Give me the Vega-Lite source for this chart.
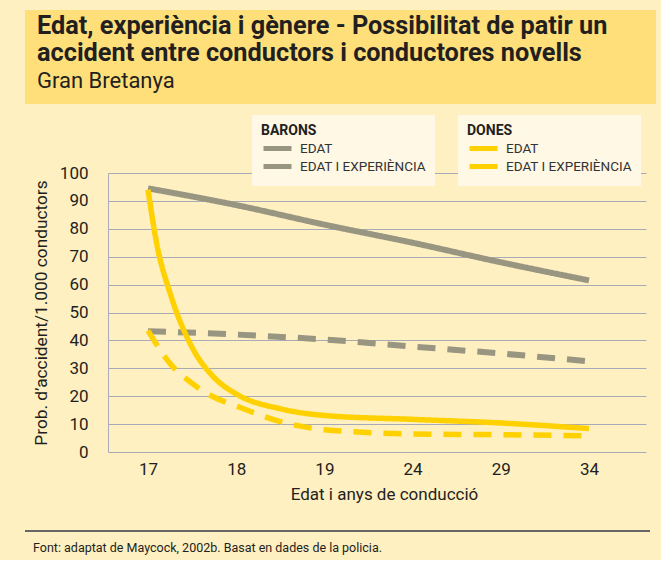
{
  "$schema": "https://vega.github.io/schema/vega-lite/v6.json",
  "background": "#FFF0C2",
  "padding": {"left": 25, "top": 10, "right": 5, "bottom": 5},
  "config": {
    "view": {"stroke": null},
    "font": "Roboto, Liberation Sans, sans-serif",
    "legend": {
      "fillColor": "#FFF8E5",
      "padding": 9,
      "symbolType": "M-3,0H3",
      "symbolStrokeWidth": 5,
      "symbolSize": 87,
      "symbolOffset": 9,
      "labelFontSize": 13.5,
      "labelColor": "#333333",
      "labelOffset": 15,
      "titleFontSize": 14,
      "titleFontWeight": "bold",
      "titleColor": "#231F20",
      "titlePadding": 3,
      "rowPadding": -4,
      "direction": "vertical"
    }
  },
  "vconcat": [
    {
      "spacing": 11,
      "vconcat": [
        {
          "width": 631,
          "height": 94,
          "view": {"fill": "#FFDF7A", "stroke": null},
          "title": {
            "text": ["Edat, experiència i gènere - Possibilitat de patir un", "accident entre conductors i conductores novells"],
            "subtitle": "Gran Bretanya",
            "anchor": "start",
            "frame": "group",
            "offset": -82,
            "dx": 12,
            "fontSize": 25.3,
            "fontWeight": "bold",
            "color": "#231F20",
            "lineHeight": 27,
            "subtitleFontSize": 22,
            "subtitleColor": "#231F20",
            "subtitlePadding": 5
          },
          "data": {"values": []},
          "mark": "point"
        },
        {
          "width": 621,
          "height": 279,
          "data": {
            "values": [
              {"sexe": "BARONS", "serie": "EDAT", "edat": 17, "valor": 94.5},
              {"sexe": "BARONS", "serie": "EDAT", "edat": 18, "valor": 88.5},
              {"sexe": "BARONS", "serie": "EDAT", "edat": 19, "valor": 81.5},
              {"sexe": "BARONS", "serie": "EDAT", "edat": 24, "valor": 75},
              {"sexe": "BARONS", "serie": "EDAT", "edat": 29, "valor": 68},
              {"sexe": "BARONS", "serie": "EDAT", "edat": 34, "valor": 61.5},
              {"sexe": "BARONS", "serie": "EDAT I EXPERIÈNCIA", "edat": 17, "valor": 43.3},
              {"sexe": "BARONS", "serie": "EDAT I EXPERIÈNCIA", "edat": 18, "valor": 42.1},
              {"sexe": "BARONS", "serie": "EDAT I EXPERIÈNCIA", "edat": 19, "valor": 40.3},
              {"sexe": "BARONS", "serie": "EDAT I EXPERIÈNCIA", "edat": 24, "valor": 37.8},
              {"sexe": "BARONS", "serie": "EDAT I EXPERIÈNCIA", "edat": 29, "valor": 35.3},
              {"sexe": "BARONS", "serie": "EDAT I EXPERIÈNCIA", "edat": 34, "valor": 32.5},
              {"sexe": "DONES", "serie": "EDAT", "edat": 17, "valor": 94},
              {"sexe": "DONES", "serie": "EDAT", "edat": 17.1, "valor": 74.5},
              {"sexe": "DONES", "serie": "EDAT", "edat": 17.25, "valor": 57},
              {"sexe": "DONES", "serie": "EDAT", "edat": 17.5, "valor": 37.5},
              {"sexe": "DONES", "serie": "EDAT", "edat": 17.75, "valor": 26.7},
              {"sexe": "DONES", "serie": "EDAT", "edat": 18, "valor": 20.8},
              {"sexe": "DONES", "serie": "EDAT", "edat": 18.5, "valor": 15.5},
              {"sexe": "DONES", "serie": "EDAT", "edat": 19, "valor": 13.1},
              {"sexe": "DONES", "serie": "EDAT", "edat": 24, "valor": 11.7},
              {"sexe": "DONES", "serie": "EDAT", "edat": 29, "valor": 10.4},
              {"sexe": "DONES", "serie": "EDAT", "edat": 34, "valor": 8.4},
              {"sexe": "DONES", "serie": "EDAT I EXPERIÈNCIA", "edat": 17, "valor": 43.5},
              {"sexe": "DONES", "serie": "EDAT I EXPERIÈNCIA", "edat": 17.25, "valor": 31.7},
              {"sexe": "DONES", "serie": "EDAT I EXPERIÈNCIA", "edat": 17.5, "valor": 24.6},
              {"sexe": "DONES", "serie": "EDAT I EXPERIÈNCIA", "edat": 17.75, "valor": 19.6},
              {"sexe": "DONES", "serie": "EDAT I EXPERIÈNCIA", "edat": 18, "valor": 16.5},
              {"sexe": "DONES", "serie": "EDAT I EXPERIÈNCIA", "edat": 18.5, "valor": 10.9},
              {"sexe": "DONES", "serie": "EDAT I EXPERIÈNCIA", "edat": 19, "valor": 8.0},
              {"sexe": "DONES", "serie": "EDAT I EXPERIÈNCIA", "edat": 24, "valor": 6.5},
              {"sexe": "DONES", "serie": "EDAT I EXPERIÈNCIA", "edat": 29, "valor": 6.2},
              {"sexe": "DONES", "serie": "EDAT I EXPERIÈNCIA", "edat": 34, "valor": 5.8}
            ]
          },
          "encoding": {
            "x": {
              "field": "edat",
              "type": "quantitative",
              "scale": {"domain": [16.55, 17, 18, 19, 24, 29, 34, 37.2], "range": [83, 123, 211.2, 299.4, 387.6, 475.8, 564, 621], "nice": false, "zero": false},
              "axis": {
                "values": [17, 18, 19, 24, 29, 34],
                "format": "d",
                "title": "Edat i anys de conducció",
                "ticks": false,
                "grid": false,
                "domain": false,
                "labelFontSize": 17,
                "labelColor": "#231F20",
                "labelPadding": 9,
                "titleFontSize": 17,
                "titleFontWeight": "normal",
                "titleColor": "#231F20",
                "titlePadding": 9,
                "titleX": 359
              }
            },
            "y": {
              "field": "valor",
              "type": "quantitative",
              "scale": {"domain": [0, 100], "nice": false},
              "axis": {
                "values": [0, 10, 20, 30, 40, 50, 60, 70, 80, 90, 100],
                "title": "Prob. d’accident/1.000 conductors",
                "offset": -83,
                "ticks": false,
                "grid": true,
                "gridColor": "#A8AAB8",
                "gridWidth": 1,
                "domain": true,
                "domainColor": "#A8AAB8",
                "labelFontSize": 17,
                "labelColor": "#231F20",
                "labelPadding": 20,
                "titleFontSize": 17.3,
                "titleFontWeight": "normal",
                "titleColor": "#231F20",
                "titlePadding": 9
              }
            }
          },
          "layer": [
            {
              "transform": [{"filter": "datum.sexe === 'BARONS'"}],
              "mark": {"type": "line", "interpolate": "monotone", "strokeWidth": 6, "strokeCap": "butt"},
              "encoding": {
                "color": {
                  "field": "serie",
                  "type": "nominal",
                  "scale": {"domain": ["EDAT", "EDAT I EXPERIÈNCIA"], "range": ["#989581", "#989581"]},
                  "legend": {"title": "BARONS", "orient": "none", "legendX": 227, "legendY": -58}
                },
                "strokeDash": {
                  "field": "serie",
                  "type": "nominal",
                  "scale": {"domain": ["EDAT", "EDAT I EXPERIÈNCIA"], "range": [[1, 0], [18, 12]]},
                  "legend": null
                }
              }
            },
            {
              "transform": [{"filter": "datum.sexe === 'DONES'"}],
              "mark": {"type": "line", "interpolate": "monotone", "strokeWidth": 5.5, "strokeCap": "butt"},
              "encoding": {
                "color": {
                  "field": "serie",
                  "type": "nominal",
                  "scale": {"domain": ["EDAT", "EDAT I EXPERIÈNCIA"], "range": ["#FFD100", "#FFD100"]},
                  "legend": {"title": "DONES", "orient": "none", "legendX": 433, "legendY": -58}
                },
                "strokeDash": {
                  "field": "serie",
                  "type": "nominal",
                  "scale": {"domain": ["EDAT", "EDAT I EXPERIÈNCIA"], "range": [[1, 0], [18, 12]]},
                  "legend": null
                }
              }
            }
          ],
          "resolve": {"scale": {"color": "independent"}, "legend": {"color": "independent"}}
        }
      ]
    },
    {
      "width": 625,
      "height": 2,
      "view": {"fill": "#666666", "stroke": null},
      "title": {
        "text": "Font: adaptat de Maycock, 2002b. Basat en dades de la policia.",
        "orient": "bottom",
        "anchor": "start",
        "frame": "group",
        "offset": 10,
        "dx": 8,
        "fontSize": 12.5,
        "fontWeight": "normal",
        "color": "#231F20"
      },
      "data": {"values": []},
      "mark": "point"
    }
  ],
  "spacing": 28
}
